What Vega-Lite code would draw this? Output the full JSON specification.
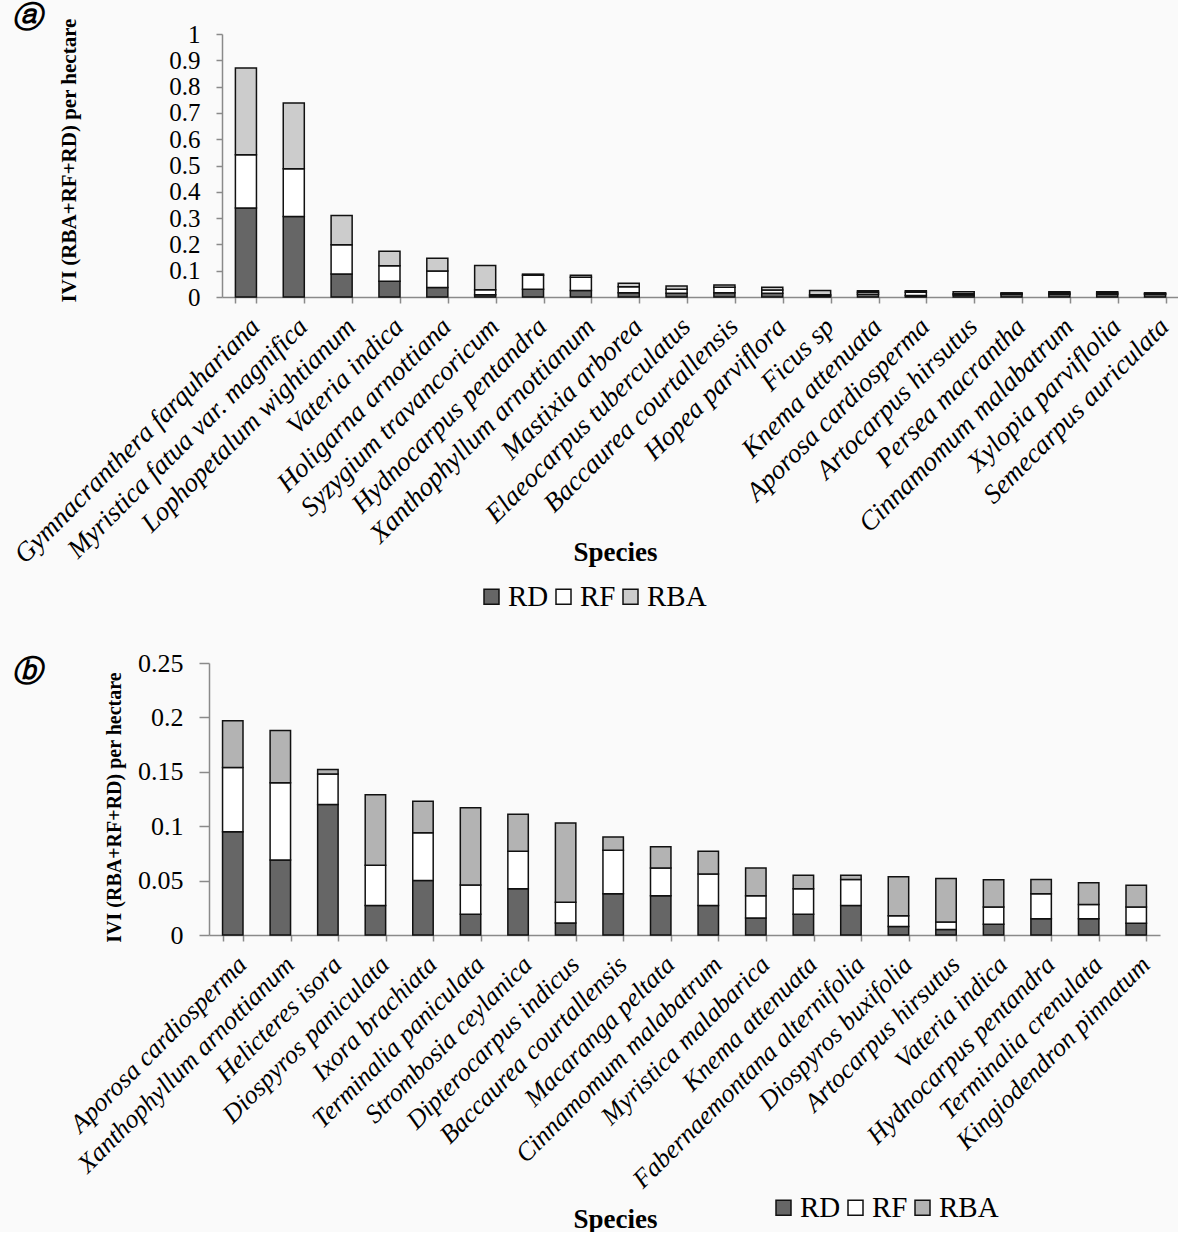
{
  "$schema": "https://vega.github.io/schema/vega-lite/v6.json",
  "background": "#fafafa",
  "padding": {"left": 8, "top": 2, "right": 0, "bottom": 0},
  "align": "none",
  "spacing": 38,
  "config": {
    "font": "Liberation Serif",
    "view": {"stroke": null},
    "axis": {
      "grid": false,
      "domainColor": "#8a8a8a",
      "domainWidth": 1.5,
      "tickColor": "#8a8a8a",
      "tickWidth": 1.5,
      "labelColor": "#000000",
      "titleColor": "#000000",
      "labelFont": "Liberation Serif",
      "titleFont": "Liberation Serif",
      "labelOverlap": false,
      "labelLimit": 0
    },
    "legend": {
      "labelFont": "Liberation Serif",
      "labelColor": "#000000",
      "symbolType": "square",
      "symbolStrokeColor": "#111111",
      "symbolStrokeWidth": 1.5,
      "padding": 0
    }
  },
  "resolve": {
    "scale": {"color": "independent", "x": "independent", "y": "independent"},
    "legend": {"color": "independent"}
  },
  "datasets": {
    "a": [
      {"species": "Gymnacranthera farquhariana", "RD": 0.338, "RF": 0.203, "RBA": 0.330},
      {"species": "Myristica fatua var. magnifica", "RD": 0.306, "RF": 0.182, "RBA": 0.250},
      {"species": "Lophopetalum wightianum", "RD": 0.087, "RF": 0.112, "RBA": 0.111},
      {"species": "Vateria indica", "RD": 0.060, "RF": 0.059, "RBA": 0.055},
      {"species": "Holigarna arnottiana", "RD": 0.036, "RF": 0.063, "RBA": 0.048},
      {"species": "Syzygium travancoricum", "RD": 0.009, "RF": 0.019, "RBA": 0.092},
      {"species": "Hydnocarpus pentandra", "RD": 0.029, "RF": 0.054, "RBA": 0.004},
      {"species": "Xanthophyllum arnottianum", "RD": 0.025, "RF": 0.050, "RBA": 0.008},
      {"species": "Mastixia arborea", "RD": 0.016, "RF": 0.023, "RBA": 0.013},
      {"species": "Elaeocarpus tuberculatus", "RD": 0.014, "RF": 0.015, "RBA": 0.013},
      {"species": "Baccaurea courtallensis", "RD": 0.016, "RF": 0.021, "RBA": 0.009},
      {"species": "Hopea parviflora", "RD": 0.014, "RF": 0.013, "RBA": 0.010},
      {"species": "Ficus sp", "RD": 0.004, "RF": 0.005, "RBA": 0.016},
      {"species": "Knema attenuata", "RD": 0.010, "RF": 0.008, "RBA": 0.006},
      {"species": "Aporosa cardiosperma", "RD": 0.006, "RF": 0.012, "RBA": 0.006},
      {"species": "Artocarpus hirsutus", "RD": 0.008, "RF": 0.004, "RBA": 0.008},
      {"species": "Persea macrantha", "RD": 0.010, "RF": 0.003, "RBA": 0.003},
      {"species": "Cinnamomum malabatrum", "RD": 0.010, "RF": 0.005, "RBA": 0.005},
      {"species": "Xylopia parviflolia", "RD": 0.010, "RF": 0.005, "RBA": 0.005},
      {"species": "Semecarpus auriculata", "RD": 0.010, "RF": 0.003, "RBA": 0.003}
    ],
    "b": [
      {"species": "Aporosa cardiosperma", "RD": 0.095, "RF": 0.059, "RBA": 0.043},
      {"species": "Xanthophyllum arnottianum", "RD": 0.069, "RF": 0.071, "RBA": 0.048},
      {"species": "Helicteres isora", "RD": 0.120, "RF": 0.028, "RBA": 0.004},
      {"species": "Diospyros paniculata", "RD": 0.027, "RF": 0.037, "RBA": 0.065},
      {"species": "Ixora brachiata", "RD": 0.050, "RF": 0.044, "RBA": 0.029},
      {"species": "Terminalia paniculata", "RD": 0.019, "RF": 0.027, "RBA": 0.071},
      {"species": "Strombosia ceylanica", "RD": 0.0425, "RF": 0.0345, "RBA": 0.034},
      {"species": "Dipterocarpus indicus", "RD": 0.011, "RF": 0.019, "RBA": 0.073},
      {"species": "Baccaurea courtallensis", "RD": 0.038, "RF": 0.040, "RBA": 0.012},
      {"species": "Macaranga peltata", "RD": 0.036, "RF": 0.0255, "RBA": 0.0195},
      {"species": "Cinnamomum malabatrum", "RD": 0.027, "RF": 0.029, "RBA": 0.021},
      {"species": "Myristica malabarica", "RD": 0.0156, "RF": 0.0204, "RBA": 0.0255},
      {"species": "Knema attenuata", "RD": 0.019, "RF": 0.0235, "RBA": 0.0125},
      {"species": "Fabernaemontana alternifolia", "RD": 0.027, "RF": 0.024, "RBA": 0.004},
      {"species": "Diospyros buxifolia", "RD": 0.0077, "RF": 0.010, "RBA": 0.0358},
      {"species": "Artocarpus hirsutus", "RD": 0.005, "RF": 0.007, "RBA": 0.040},
      {"species": "Vateria indica", "RD": 0.0098, "RF": 0.016, "RBA": 0.025},
      {"species": "Hydnocarpus pentandra", "RD": 0.015, "RF": 0.023, "RBA": 0.013},
      {"species": "Terminalia crenulata", "RD": 0.015, "RF": 0.013, "RBA": 0.020},
      {"species": "Kingiodendron pinnatum", "RD": 0.0107, "RF": 0.015, "RBA": 0.020}
    ]
  },
  "vconcat": [
    {
      "width": 970,
      "height": 263,
      "data": {"name": "a"},
      "transform": [
        {"fold": ["RD", "RF", "RBA"], "as": ["part", "value"]},
        {"window": [{"op": "row_number", "as": "k"}], "groupby": ["species"]}
      ],
      "title": {
        "text": "ⓐ",
        "anchor": "start",
        "frame": "group",
        "dx": -197,
        "dy": 20,
        "offset": 5,
        "font": "DejaVu Serif",
        "fontSize": 30,
        "fontWeight": "bold",
        "fontStyle": "italic",
        "color": "#000000"
      },
      "mark": {"type": "bar", "stroke": "#111111", "strokeWidth": 1.5},
      "encoding": {
        "x": {
          "field": "species",
          "type": "nominal",
          "sort": null,
          "scale": {"paddingInner": 0.56, "paddingOuter": 0.28, "range": [13, 970]},
          "axis": {
            "title": "Species",
            "titleFontSize": 27,
            "titleFontWeight": "bold",
            "titleX": 406,
            "titleY": 255,
            "titleAlign": "center",
            "titleBaseline": "middle",
            "labelAngle": -45,
            "labelFontSize": 27,
            "labelFontStyle": "italic",
            "labelPadding": 10,
            "tickBand": "extent",
            "tickSize": 6
          }
        },
        "y": {
          "field": "value",
          "type": "quantitative",
          "stack": "zero",
          "scale": {"domain": [0, 1]},
          "axis": {
            "offset": -13,
            "title": "IVI (RBA+RF+RD) per hectare",
            "titleFontSize": 21,
            "titleFontWeight": "bold",
            "titleX": -153,
            "titleY": 126,
            "titleAlign": "center",
            "titleBaseline": "middle",
            "values": [0, 0.1, 0.2, 0.3, 0.4, 0.5, 0.6, 0.7, 0.8, 0.9, 1],
            "format": "~g",
            "labelFontSize": 25,
            "labelPadding": 16,
            "tickSize": 6
          }
        },
        "order": {"field": "k", "type": "quantitative", "sort": "ascending"},
        "color": {
          "field": "part",
          "type": "nominal",
          "sort": ["RD", "RF", "RBA"],
          "scale": {"domain": ["RD", "RF", "RBA"], "range": ["#666666", "#ffffff", "#cccccc"]},
          "legend": {
            "title": null,
            "orient": "none",
            "direction": "horizontal",
            "legendX": 268,
            "legendY": 548,
            "labelFontSize": 29,
            "symbolSize": 225,
            "labelOffset": 2,
            "columnPadding": 0
          }
        }
      }
    },
    {
      "width": 951,
      "height": 272,
      "data": {"name": "b"},
      "transform": [
        {"fold": ["RD", "RF", "RBA"], "as": ["part", "value"]},
        {"window": [{"op": "row_number", "as": "k"}], "groupby": ["species"]}
      ],
      "title": {
        "text": "ⓑ",
        "anchor": "start",
        "frame": "group",
        "dx": -197,
        "dy": 42,
        "offset": 5,
        "font": "DejaVu Serif",
        "fontSize": 30,
        "fontWeight": "bold",
        "fontStyle": "italic",
        "color": "#000000"
      },
      "mark": {"type": "bar", "stroke": "#111111", "strokeWidth": 1.5},
      "encoding": {
        "x": {
          "field": "species",
          "type": "nominal",
          "sort": null,
          "scale": {"paddingInner": 0.57, "paddingOuter": 0.285},
          "axis": {
            "title": "Species",
            "titleFontSize": 27,
            "titleFontWeight": "bold",
            "titleX": 406,
            "titleY": 284,
            "titleAlign": "center",
            "titleBaseline": "middle",
            "labelAngle": -45,
            "labelFontSize": 26,
            "labelFontStyle": "italic",
            "labelPadding": 10,
            "tickBand": "extent",
            "tickSize": 6
          }
        },
        "y": {
          "field": "value",
          "type": "quantitative",
          "stack": "zero",
          "scale": {"domain": [0, 0.25]},
          "axis": {
            "title": "IVI (RBA+RF+RD) per hectare",
            "titleFontSize": 20,
            "titleFontWeight": "bold",
            "titleX": -95,
            "titleY": 144,
            "titleAlign": "center",
            "titleBaseline": "middle",
            "values": [0, 0.05, 0.1, 0.15, 0.2, 0.25],
            "format": "~g",
            "labelFontSize": 26,
            "labelPadding": 16,
            "tickSize": 10
          }
        },
        "order": {"field": "k", "type": "quantitative", "sort": "ascending"},
        "color": {
          "field": "part",
          "type": "nominal",
          "sort": ["RD", "RF", "RBA"],
          "scale": {"domain": ["RD", "RF", "RBA"], "range": ["#666666", "#ffffff", "#b3b3b3"]},
          "legend": {
            "title": null,
            "orient": "none",
            "direction": "horizontal",
            "legendX": 560,
            "legendY": 530,
            "labelFontSize": 29,
            "symbolSize": 225,
            "labelOffset": 2,
            "columnPadding": 0
          }
        }
      }
    }
  ]
}
